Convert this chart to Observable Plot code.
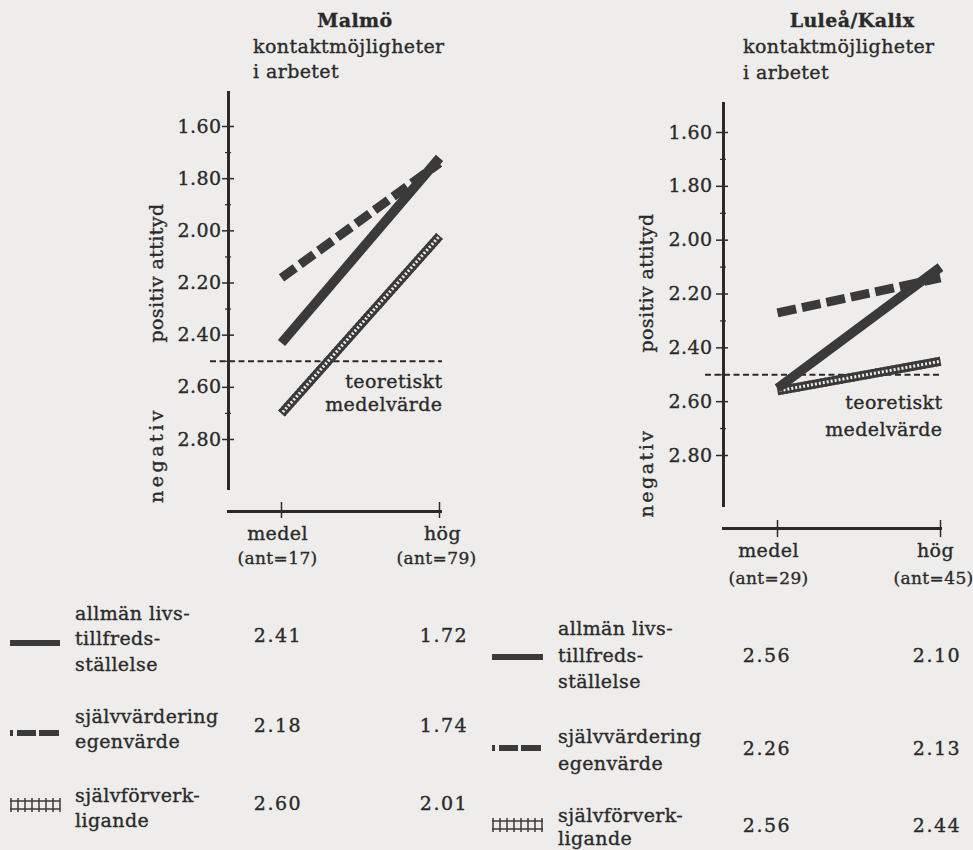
<!DOCTYPE html>
<html><head><meta charset="utf-8">
<script src="https://cdn.jsdelivr.net/npm/d3@7"></script>
<script src="https://cdn.jsdelivr.net/npm/@observablehq/plot@0.6"></script>
<style>
html,body{margin:0;padding:0;background:#eeedeb;}
#page{position:relative;width:973px;height:850px;overflow:hidden;font-family:"DejaVu Serif",serif;color:#2a2a2a;}
#page text{stroke:#2a2a2a;stroke-width:0.35px;}
.panel{position:absolute;}
#overlay{position:absolute;left:0;top:0;pointer-events:none;}
</style></head><body><div id="page"></div>
<script>
// ---- data ----
const categories = ["medel", "hög"];
const seriesKeys = ["allmän livstillfredsställelse", "självvärdering egenvärde", "självförverkligande"];
const seriesLabelLines = [["allmän livs-", "tillfreds-", "ställelse"], ["självvärdering", "egenvärde"], ["självförverk-", "ligande"]];
const yTicks = [1.6, 1.8, 2.0, 2.2, 2.4, 2.6, 2.8];
const yMinorTicks = [1.7, 1.9, 2.1, 2.3, 2.5, 2.7];
const theoreticalMean = 2.5;
const meanLabel = "teoretiskt\nmedelvärde";

// Malmö: values as printed in the table
const malmoN = [17, 79];
const malmoAllman = [2.41, 1.72];
const malmoSjalvvardering = [2.18, 1.74];
const malmoSjalvforverk = [2.60, 2.01];
// Malmö: line positions
const malmoAllmanLine = [2.43, 1.72];
const malmoSjalvvarderingLine = [2.18, 1.74];
const malmoSjalvforverkLine = [2.70, 2.02];

// Luleå/Kalix: values as printed in the table
const luleaN = [29, 45];
const luleaAllman = [2.56, 2.10];
const luleaSjalvvardering = [2.26, 2.13];
const luleaSjalvforverk = [2.56, 2.44];
// Luleå/Kalix: line positions
const luleaAllmanLine = [2.55, 2.10];
const luleaSjalvvarderingLine = [2.27, 2.14];
const luleaSjalvforverkLine = [2.56, 2.45];

// ---- styling ----
const INK = "#2a2a2a";
const LINE = "#3a3a3a";
const BG = "#eeedeb";
const FONT = "DejaVu Serif";

function makePanel(cfg) {
  const rows = [];
  cfg.lines.forEach((vals, s) => vals.forEach((v, i) => rows.push({series: seriesKeys[s], cat: categories[i], value: v})));
  const sel = k => rows.filter(d => d.series === seriesKeys[k]);
  const common = {x: "cat", y: "value", strokeLinecap: "butt", strokeLinejoin: "miter"};
  const catMarks = categories.map((c, i) => Plot.text([c], {x: d => d, frameAnchor: "bottom", dy: cfg.catDy, dx: cfg.catDx[i], text: d => d, lineAnchor: "middle", fill: INK}));
  const nMarks = categories.map((c, i) => Plot.text([cfg.n[i]], {x: () => c, frameAnchor: "bottom", dy: cfg.nDy, dx: cfg.nDx[i], text: d => `(ant=${d})`, lineAnchor: "middle", fill: INK, fontSize: 17}));
  const p = Plot.plot({
    width: cfg.w, height: cfg.h,
    marginLeft: cfg.ml, marginRight: cfg.mr, marginTop: cfg.mt, marginBottom: cfg.mb,
    style: {background: "transparent", fontFamily: FONT, fontSize: "19px", color: INK, overflow: "visible", letterSpacing: "0.4px"},
    x: {type: "point", domain: categories, range: cfg.xr, padding: 0},
    y: {domain: [1.6, 2.8], range: cfg.yr},
    marks: [
      Plot.frame({anchor: "left", strokeWidth: 3, stroke: INK}),
      Plot.frame({anchor: "bottom", strokeWidth: 3, stroke: INK, dy: cfg.xAxisDy}),
      Plot.axisY({ticks: yTicks, tickFormat: d3.format(".2f"), tickSize: 12, dx: cfg.tickDx, tickPadding: cfg.tickPad, label: null, strokeWidth: 1.5}),
      Plot.axisY({ticks: yMinorTicks, tickFormat: () => "", tickSize: 6, dx: 3, label: null, strokeWidth: 1.2}),
      Plot.axisX({ticks: categories, tickFormat: () => "", tickSize: cfg.xTickSize, dy: cfg.xTickDy, label: null, strokeWidth: 1.5}),
      ...catMarks,
      ...nMarks,
      Plot.ruleY([theoreticalMean], {stroke: INK, strokeWidth: 2, strokeDasharray: "6,3.5", insetLeft: -18, insetRight: cfg.ruleInsetRight}),
      Plot.text([theoreticalMean], {x: () => categories[1], y: d => d, text: () => meanLabel, textAnchor: "end", lineAnchor: "top", dx: cfg.meanDx, dy: cfg.meanDy, lineHeight: cfg.meanLH, fill: INK}),
      // självförverkligande: ladder-like hatched band
      Plot.line(sel(2), {...common, stroke: LINE, strokeWidth: 9}),
      Plot.line(sel(2), {...common, stroke: BG, strokeWidth: 3}),
      Plot.line(sel(2), {...common, stroke: LINE, strokeWidth: 9, strokeDasharray: "2,2"}),
      // allmän livstillfredsställelse: solid thick
      Plot.line(sel(0), {...common, stroke: LINE, strokeWidth: 9.5}),
      // självvärdering: thick dashed
      Plot.line(sel(1), {...common, stroke: LINE, strokeWidth: 9, strokeDasharray: cfg.dash})
    ]
  });
  p.classList.add("panel");
  p.style.left = cfg.left + "px";
  p.style.top = cfg.top + "px";
  p.style.position = "absolute";
  return p;
}

const page = document.getElementById("page");

page.appendChild(makePanel({
  lines: [malmoAllmanLine, malmoSjalvvarderingLine, malmoSjalvforverkLine], n: malmoN,
  left: 130, top: 80, w: 330, h: 500, ml: 98, mr: 20, mt: 12, mb: 92,
  xr: [151, 309], yr: [46, 359], xAxisDy: 23, xTickDy: 14, xTickSize: 16,
  tickDx: 6, tickPad: 1, catDy: 45, nDy: 70, catDx: [-4, 3], nDx: [-4, -3], ruleInsetRight: -2,
  meanDx: 3, meanDy: 10.8, meanLH: 1.21, dash: "17,6"
}));

page.appendChild(makePanel({
  lines: [luleaAllmanLine, luleaSjalvvarderingLine, luleaSjalvforverkLine], n: luleaN,
  left: 620, top: 80, w: 340, h: 500, ml: 103, mr: 20, mt: 23, mb: 75,
  xr: [157, 320], yr: [52, 375], xAxisDy: 23, xTickDy: 15, xTickSize: 17,
  tickDx: 5, tickPad: 4, catDy: 45, nDy: 73, catDx: [-9, -5], nDx: [-9, -7], ruleInsetRight: 0,
  meanDx: 2, meanDy: 15.5, meanLH: 1.42, dash: "19,6"
}));

// ---- overlay: titles, axis titles, value tables ----
const svg = d3.select(page).append("svg").attr("id", "overlay").attr("width", 973).attr("height", 850)
  .style("font-family", FONT).style("font-size", "19px").attr("fill", INK);

function txt(x, y, s, o = {}) {
  const t = svg.append("text").attr("x", 0).attr("y", 0)
    .attr("transform", `translate(${x},${y})` + (o.rotate ? ` rotate(${o.rotate})` : ""))
    .attr("text-anchor", o.anchor || "start")
    .style("letter-spacing", (o.ls ?? 0.4) + "px")
    .text(s);
  if (o.bold) t.style("font-weight", "bold");
  return t;
}

// titles
txt(355, 27, "Malmö", {anchor: "middle", bold: true});
txt(253, 53, "kontaktmöjligheter");
txt(253, 78, "i arbetet");
txt(852, 27, "Luleå/Kalix", {anchor: "middle", bold: true});
txt(743, 53, "kontaktmöjligheter");
txt(743, 79, "i arbetet");

// y-axis titles
txt(163, 273, "positiv attityd", {anchor: "middle", rotate: -90});
txt(163, 455, "negativ", {anchor: "middle", rotate: -90, ls: 3.5});
txt(653, 283, "positiv attityd", {anchor: "middle", rotate: -90});
txt(653, 473, "negativ", {anchor: "middle", rotate: -90, ls: 2.5});

function swatch(k, x0, x1, y) {
  const g = svg.append("g").attr("stroke", LINE).attr("fill", "none");
  if (k === 0) {
    g.append("line").attr("x1", x0).attr("x2", x1).attr("y1", y).attr("y2", y).attr("stroke-width", 6);
  } else if (k === 1) {
    g.append("line").attr("x1", x0).attr("x2", x1).attr("y1", y).attr("y2", y).attr("stroke-width", 6)
      .attr("stroke-dasharray", "3,4,19,3,20");
  } else {
    g.append("line").attr("x1", x0).attr("x2", x1).attr("y1", y - 4).attr("y2", y - 4).attr("stroke-width", 1.6);
    g.append("line").attr("x1", x0).attr("x2", x1).attr("y1", y + 4).attr("y2", y + 4).attr("stroke-width", 1.6);
    for (let x = x0 + 1; x <= x1; x += 7) {
      g.append("line").attr("x1", x).attr("x2", x).attr("y1", y - 7).attr("y2", y + 7).attr("stroke-width", 1.5);
    }
  }
}

function table(t) {
  t.vals.forEach((vals, k) => {
    swatch(k, t.sx0, t.sx1, t.swY[k]);
    seriesLabelLines[k].forEach((line, j) => txt(t.labelX, t.labelY[k][j], line));
    txt(t.valX[0], t.valY[k], d3.format(".2f")(vals[0]), {anchor: "middle", ls: 1.5});
    txt(t.valX[1], t.valY[k], d3.format(".2f")(vals[1]), {anchor: "middle", ls: 1.5});
  });
}

table({
  vals: [malmoAllman, malmoSjalvvardering, malmoSjalvforverk],
  sx0: 10, sx1: 60, swY: [643, 733, 805],
  labelX: 75, labelY: [[620, 645, 671], [723, 748], [802, 827]],
  valX: [278, 444], valY: [642, 732, 810]
});
table({
  vals: [luleaAllman, luleaSjalvvardering, luleaSjalvforverk],
  sx0: 492, sx1: 543, swY: [657, 748, 825],
  labelX: 558, labelY: [[635, 662, 688], [743, 770], [822, 845]],
  valX: [767, 937], valY: [662, 755, 832]
});
</script>
</body></html>
